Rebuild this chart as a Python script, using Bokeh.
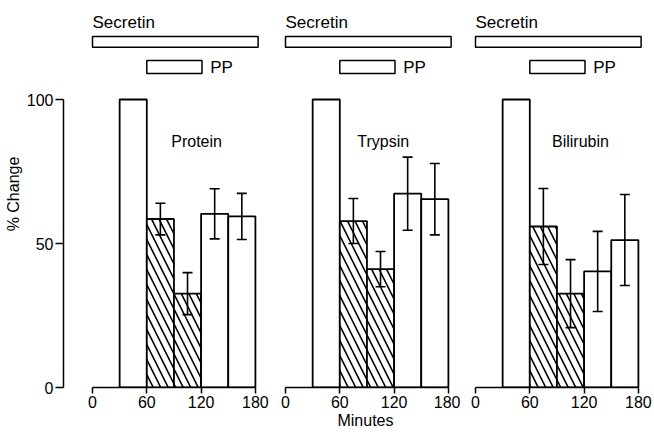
from bokeh.plotting import figure
from bokeh.layouts import row
from bokeh.models import (Range1d, LinearAxis, FixedTicker, ColumnDataSource,
                          Whisker, TeeHead)
from bokeh.core.properties import value
from bokeh.embed import file_html
from bokeh.resources import INLINE

# ---------------- data ----------------
bin_centers = [45, 75, 105, 135, 165]          # minutes (30-min bins)
bin_width = 30
hatched = [False, True, True, False, False]     # PP period bins

panel_names = ["Protein", "Trypsin", "Bilirubin"]
protein = [100, 58.5, 32.6, 60.3, 59.4]
protein_err = [0, 5.5, 7.3, 8.7, 8.0]
trypsin = [100, 57.8, 41.1, 67.3, 65.4]
trypsin_err = [0, 7.8, 6.1, 12.7, 12.4]
bilirubin = [100, 55.9, 32.6, 40.3, 51.2]
bilirubin_err = [0, 13.2, 11.8, 13.9, 15.8]

secretin_period = [0, 183]
pp_period = [60, 121]

x_ticks = [0, 60, 120, 180]
y_ticks = [0, 50, 100]

series = [protein, trypsin, bilirubin]
errors = [protein_err, trypsin_err, bilirubin_err]

# ---------------- layout ----------------
PX_PER_MIN = 0.905
PX_PER_UNIT = 2.88
FRAME_H = 387
TOTAL_H = 434
Y_END = FRAME_H / PX_PER_UNIT

FONT = "Liberation Sans"

# (fig width, frame left border, offset of 0 min from frame left)
specs = [(270, 63, 29), (190, 0, 15), (194, 0, 15)]

figs = []
for k, (w, bleft, off) in enumerate(specs):
    fw = w - bleft
    xr = Range1d(-off / PX_PER_MIN, (fw - off) / PX_PER_MIN)
    yr = Range1d(0, Y_END)
    p = figure(width=w, height=TOTAL_H, x_range=xr, y_range=yr,
               output_backend="svg", toolbar_location=None,
               x_axis_location=None, y_axis_location=None,
               min_border_left=bleft, min_border_right=0,
               min_border_top=0, min_border_bottom=TOTAL_H - FRAME_H)
    p.outline_line_color = None
    p.xgrid.visible = False
    p.ygrid.visible = False
    p.background_fill_color = "white"
    p.border_fill_color = "white"

    xa = LinearAxis(ticker=FixedTicker(ticks=x_ticks), bounds=(0, 180))
    xa.major_tick_out = 6
    xa.major_tick_in = 0
    xa.minor_tick_out = 0
    xa.minor_tick_in = 0
    xa.axis_line_width = 1.5
    xa.major_tick_line_width = 1.5
    xa.major_label_text_font = FONT
    xa.major_label_text_font_size = "16px"
    xa.major_label_text_color = "black"
    xa.major_label_standoff = 2
    if k == 1:
        xa.axis_label = "Minutes"
        xa.axis_label_text_font = FONT
        xa.axis_label_text_font_size = "16px"
        xa.axis_label_text_font_style = "normal"
        xa.axis_label_standoff = 1
        xa.axis_label_text_color = "black"
    p.add_layout(xa, "below")

    if k == 0:
        ya = LinearAxis(ticker=FixedTicker(ticks=y_ticks), bounds=(0, 100))
        ya.major_tick_out = 8
        ya.major_tick_in = 0
        ya.minor_tick_out = 0
        ya.minor_tick_in = 0
        ya.axis_line_width = 1.5
        ya.major_tick_line_width = 1.5
        ya.major_label_text_font = FONT
        ya.major_label_text_font_size = "16px"
        ya.major_label_text_color = "black"
        ya.major_label_standoff = 2
        ya.axis_label = "% Change"
        ya.axis_label_text_font = FONT
        ya.axis_label_text_font_size = "16px"
        ya.axis_label_text_font_style = "normal"
        ya.axis_label_standoff = 2
        ya.axis_label_text_color = "black"
        p.add_layout(ya, "left")

    vals = series[k]
    errs = errors[k]
    src = ColumnDataSource(dict(
        x=bin_centers, top=vals,
        hatch=["\\" if h else " " for h in hatched]))
    p.vbar(x="x", top="top", bottom=0, width=bin_width, source=src,
           fill_color="white", line_color="black", line_width=1.8,
           hatch_pattern="hatch", hatch_color="black",
           hatch_scale=15, hatch_weight=1.6)

    wsrc = ColumnDataSource(dict(
        base=bin_centers[1:],
        upper=[v + e for v, e in zip(vals[1:], errs[1:])],
        lower=[v - e for v, e in zip(vals[1:], errs[1:])]))
    wh = Whisker(base="base", upper="upper", lower="lower", source=wsrc,
                 line_color="black", line_width=1.6, level="overlay",
                 upper_head=TeeHead(size=10, line_color="black", line_width=1.6),
                 lower_head=TeeHead(size=10, line_color="black", line_width=1.6))
    p.add_layout(wh)

    # panel name
    name_x = [115, 108, 116][k]
    p.text(x=[name_x], y=[85.4], text=[panel_names[k]],
           text_font=value(FONT), text_font_size="16px",
           text_align="center", text_baseline="middle", text_color="black")

    # treatment bars on top
    p.quad(left=[secretin_period[0]], right=[secretin_period[1]],
           bottom=[118.1], top=[121.9], fill_color="white",
           line_color="black", line_width=1.5)
    p.text(x=[secretin_period[0]], y=[126.9], text=["Secretin"],
           text_font=value(FONT), text_font_size="17px",
           text_align="left", text_baseline="middle", text_color="black")
    p.quad(left=[pp_period[0]], right=[pp_period[1]],
           bottom=[109.0], top=[113.5], fill_color="white",
           line_color="black", line_width=1.5)
    p.text(x=[130], y=[111.2], text=["PP"],
           text_font=value(FONT), text_font_size="17px",
           text_align="left", text_baseline="middle", text_color="black")
    figs.append(p)

layout = row(*figs, spacing=0)
open("out.html", "w").write(file_html(layout, INLINE))
